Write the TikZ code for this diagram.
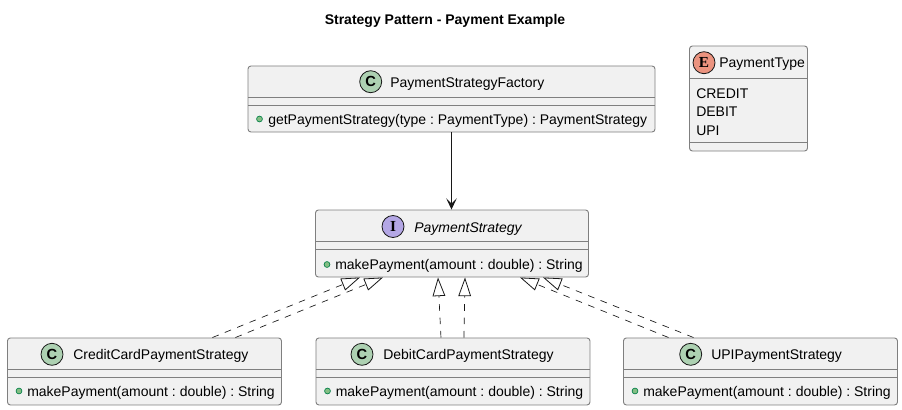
\documentclass[tikz,border=0pt]{standalone}
\usepackage{fontspec}
\setmainfont{Liberation Sans}
\newfontfamily\iconfont{Liberation Serif}
\usetikzlibrary{arrows.meta}
\frenchspacing
\definecolor{boxfill}{HTML}{F1F1F1}
\definecolor{boxline}{HTML}{7F7F7F}
\definecolor{inkline}{HTML}{181818}
\definecolor{classicon}{HTML}{ADD1B2}
\definecolor{enumicon}{HTML}{EB937F}
\definecolor{ifaceicon}{HTML}{B4A7E5}
\definecolor{dotfill}{HTML}{84BE84}
\definecolor{dotline}{HTML}{038048}
\tikzset{
    umltext/.style={inner sep=0pt, anchor=base west, font=\fontsize{10.5}{12}\selectfont, text=black},
    classbox/.style={draw=boxline, fill=boxfill, line width=0.7pt, rounded corners=2.2pt, inner sep=0pt},
    sepline/.style={draw=boxline, line width=0.7pt},
    icon/.style={circle, draw=inkline, line width=0.6pt, minimum size=16.5pt, inner sep=0pt, text=black},
    memberdot/.style={fill=dotfill, draw=dotline, line width=0.5pt},
    uses/.style={draw=inkline, line width=0.75pt, -{Stealth[length=8.5pt, width=8pt, inset=4pt]}},
    realizes/.style={draw=inkline, line width=0.5pt, dash pattern=on 5pt off 5pt,
        -{Triangle[open, length=14pt, width=9.5pt, line width=0.6pt, fill=white]}}
}
\begin{document}
\begin{tikzpicture}[x=0.75pt, y=-0.75pt]
    \useasboundingbox (0,0) rectangle (902,410);
    \node[umltext, anchor=base, font=\fontsize{10.5}{12}\selectfont\bfseries] (title) at (445,25) {Strategy Pattern - Payment Example};

    % Factory
    \node[classbox, minimum width=305.25pt, minimum height=49.5pt] (factory) at (451.5,99) {};
    \draw[sepline] (248,97.5) -- (655,97.5);
    \draw[sepline] (248,105.5) -- (655,105.5);
    \node[icon, fill=classicon, font=\fontsize{11}{12}\selectfont\bfseries] (factoryicon) at (370.7,81.7) {C};
    \node[umltext] (factoryname) at (390,87) {PaymentStrategyFactory};
    \draw[memberdot] (259.5,119) circle (2.2pt);
    \node[umltext] (factorymember) at (268,124) {getPaymentStrategy(type : PaymentType) : PaymentStrategy};

    % Enum
    \node[classbox, minimum width=88.5pt, minimum height=78.75pt] (paytype) at (748.5,98.5) {};
    \draw[sepline] (689.5,78) -- (807.5,78);
    \draw[sepline] (689.5,142) -- (807.5,142);
    \node[icon, fill=enumicon, font=\fontsize{11.5}{12}\selectfont\bfseries\iconfont] (paytypeicon) at (704,62.7) {E};
    \node[umltext] (paytypename) at (719,67.7) {PaymentType};
    \foreach \name/\lbl/\y in {credit/CREDIT/98.5, debit/DEBIT/116.5, upi/UPI/135.5} {
        \node[umltext] (\name value) at (696,\y) {\lbl};
    }

    % Interface
    \node[classbox, minimum width=204.75pt, minimum height=50.25pt] (strategy) at (452,243.5) {};
    \draw[sepline] (315.5,241.5) -- (588.5,241.5);
    \draw[sepline] (315.5,249.5) -- (588.5,249.5);
    \node[icon, fill=ifaceicon, font=\fontsize{11.5}{12}\selectfont\bfseries\iconfont] (strategyicon) at (393,226.5) {I};
    \node[umltext, font=\fontsize{10.5}{12}\selectfont\itshape] (strategyname) at (414,232) {PaymentStrategy};
    \draw[memberdot] (327,264.5) circle (2.2pt);
    \node[umltext] (strategymember) at (335,269.5) {makePayment(amount : double) : String};

    % Concrete classes
    \foreach \name/\lbl/\x in {credit/CreditCardPaymentStrategy/7, debit/DebitCardPaymentStrategy/315.5, upi/UPIPaymentStrategy/623} {
        \node[classbox, minimum width=205.5pt, minimum height=50.25pt, anchor=north west] (\name) at (\x,337.5) {};
        \draw[sepline] (\x,369) -- ({\x+274},369);
        \draw[sepline] (\x,377) -- ({\x+274},377);
        \draw[memberdot] ({\x+12},391) circle (2.2pt);
        \node[umltext] (\name member) at ({\x+20},396) {makePayment(amount : double) : String};
    }
    \foreach \name/\lbl/\cx/\tx in {credit/CreditCardPaymentStrategy/52/73, debit/DebitCardPaymentStrategy/362/383, upi/UPIPaymentStrategy/690.7/711} {
        \node[icon, fill=classicon, font=\fontsize{11}{12}\selectfont\bfseries] (\name icon) at (\cx,354.3) {C};
        \node[umltext] (\name name) at (\tx,359) {\lbl};
    }

    % Connectors
    \draw[uses] (factory.south) -- (factory.south |- strategy.north);
    \draw[realizes] ([shift={(68,0)}]credit.north) -- ([shift={(-92,0)}]strategy.south);
    \draw[realizes] ([shift={(91,0)}]credit.north) -- ([shift={(-69,0)}]strategy.south);
    \draw[realizes] ([shift={(-12,0)}]debit.north) -- ([shift={(-14,0)}]strategy.south);
    \draw[realizes] ([shift={(11,0)}]debit.north) -- ([shift={(13,0)}]strategy.south);
    \draw[realizes] ([shift={(-92,0)}]upi.north) -- ([shift={(68,0)}]strategy.south);
    \draw[realizes] ([shift={(-67,0)}]upi.north) -- ([shift={(91,0)}]strategy.south);
\end{tikzpicture}
\end{document}
